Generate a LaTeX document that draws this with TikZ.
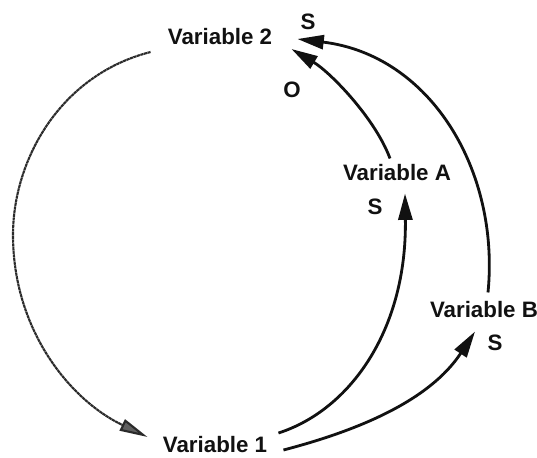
\documentclass[tikz,border=0pt]{standalone}
\usepackage{fontspec}
\setmainfont{Liberation Sans}
\usepackage{tikz}
\usetikzlibrary{positioning,arrows.meta,calc}
\definecolor{ink}{HTML}{111111}
\definecolor{grit}{HTML}{2A2A2A}
\tikzset{
  var/.style={font=\fontsize{12.7}{13}\selectfont\bfseries, text=ink, inner sep=0pt},
  sgn/.style={font=\fontsize{12.7}{13}\selectfont\bfseries, text=ink, inner sep=0pt},
  link/.style={-{Triangle[length=15pt,width=8pt]}, line width=1.6pt, color=ink},
  delay/.style={-{Triangle[length=16pt,width=7pt,fill=grit!75]}, line width=1.2pt, color=grit,
    dash pattern=on 1.8pt off 0.3pt},
}

\begin{document}
\begin{tikzpicture}[x=0.02cm, y=-0.02cm]
  \useasboundingbox (0,0) rectangle (537,457);
  \node[var] (v2) at (220,37) {Variable 2};
  \node[var] (va) at (397,173) {Variable A};
  \node[var] (vb) at (484,310) {Variable B};
  \node[var] (v1) at (215,445) {Variable 1};
  \node[sgn] (s2) at (308,22) {S};
  \node[sgn] (o2) at (292,90) {O};
  \node[sgn] (sa) at (375,207) {S};
  \node[sgn] (sb) at (495,343) {S};
  % links into Variable 2
  \draw[link] ([shift={(-7,-6)}]va.north) .. controls (375,118) and (330,72) .. ([shift={(19,12)}]v2.east);
  \draw[link] ([shift={(4,-9)}]vb.north) .. controls (500,170) and (430,55) .. ([shift={(25,2)}]v2.east);
  % links out of Variable 1
  \draw[link] ([shift={(11,-12)}]v1.east) .. controls (350,410) and (407,330) .. ([shift={(8,12)}]va.south);
  \draw[link] ([shift={(16,5)}]v1.east) .. controls (360,430) and (430,400) .. ([shift={(-9,13)}]vb.south);
  % delayed link back
  \draw[delay] ([shift={(-17,15)}]v2.west) .. controls (60,75) and (13,160) .. (13,235)
    .. controls (13,330) and (70,400) .. ([shift={(-15,-8)}]v1.west);
\end{tikzpicture}
\end{document}
